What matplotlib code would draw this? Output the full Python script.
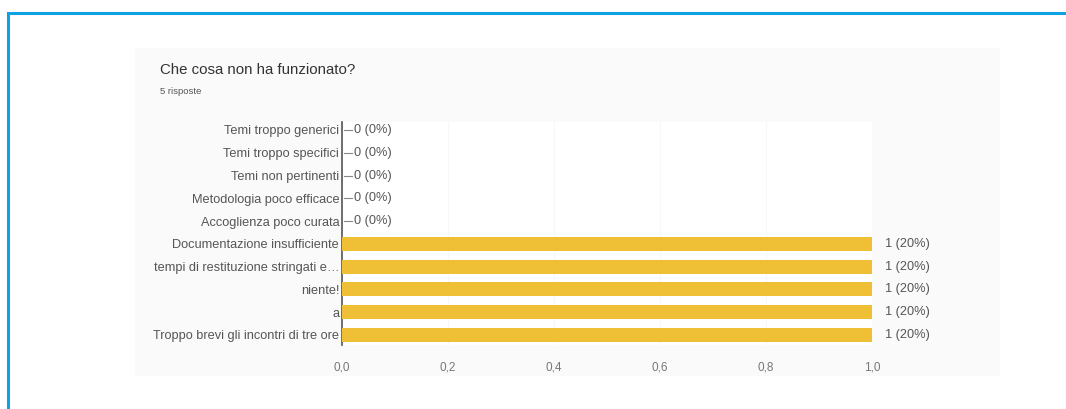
import matplotlib
matplotlib.use("Agg")
import matplotlib.pyplot as plt
from matplotlib.patches import Rectangle

plt.rcParams['font.family'] = ['Liberation Sans', 'DejaVu Sans']

# Survey answers and counts
categories = [
    "Temi troppo generici",
    "Temi troppo specifici",
    "Temi non pertinenti",
    "Metodologia poco efficace",
    "Accoglienza poco curata",
    "Documentazione insufficiente",
    "tempi di restituzione stringati e…",
    "niente!",
    "a",
    "Troppo brevi gli incontri di tre ore",
]
counts = [0, 0, 0, 0, 0, 1, 1, 1, 1, 1]
total_responses = 5
x_ticks = [0.0, 0.2, 0.4, 0.6, 0.8, 1.0]
x_tick_labels = ["0,0", "0,2", "0,4", "0,6", "0,8", "1,0"]

title = "Che cosa non ha funzionato?"
subtitle = f"{total_responses} risposte"

W, H = 1066, 409
fig = plt.figure(figsize=(W / 100, H / 100), dpi=100)
fig.patch.set_facecolor("white")

def fx(px):
    return px / W

def fy(py):
    return 1 - py / H

# Outer blue frame
frame = Rectangle((fx(8), fy(H + 20)), fx(W + 40), fy(13) - fy(H + 20),
                  transform=fig.transFigure, fill=False,
                  edgecolor="#0ea2e2", linewidth=2.2, zorder=0)
fig.add_artist(frame)

# Light card behind the chart
card = Rectangle((fx(135), fy(376)), fx(1000) - fx(135), fy(48) - fy(376),
                 transform=fig.transFigure, facecolor="#fafafa",
                 edgecolor="none", zorder=0)
fig.add_artist(card)

fig.text(fx(160), fy(70), title, fontsize=10.8, color="#333333",
         va="center", ha="left")
fig.text(fx(160), fy(91), subtitle, fontsize=6.8, color="#555555",
         va="center", ha="left")

ax = fig.add_axes([fx(342), fy(345), fx(872) - fx(342), fy(122) - fy(345)])
ax.set_facecolor("white")

y = list(range(len(categories)))
ax.barh(y, counts, height=0.62, color="#efbf35", zorder=3)

label_size = 9.2
text_color = "#555555"
ax.set_xlim(0, 1.0)
ax.set_ylim(9.44, -0.35)
ax.set_yticks(y)
ax.set_yticklabels(categories, fontsize=label_size, color=text_color)
ax.set_xticks(x_ticks)
ax.set_xticklabels(x_tick_labels, fontsize=8.5, color="#777777")
ax.tick_params(axis="both", length=0)
ax.tick_params(axis="y", pad=2)
ax.tick_params(axis="x", pad=12)

for s in ["top", "right", "bottom"]:
    ax.spines[s].set_visible(False)
ax.spines["left"].set_color("#555555")
ax.spines["left"].set_linewidth(1.2)
ax.grid(axis="x", color="#f7f7f7", linewidth=0.8, zorder=0)

for yi, c in zip(y, counts):
    pct = round(100 * c / total_responses)
    label = f"{c} ({pct}%)"
    if c == 0:
        ax.plot([0.004, 0.018], [yi, yi], color="#888888", linewidth=0.8,
                zorder=4, clip_on=False)
        ax.text(0.022, yi, label, fontsize=label_size, color=text_color,
                va="center", ha="left")
    else:
        ax.text(c + 0.025, yi, label, fontsize=label_size, color=text_color,
                va="center", ha="left", clip_on=False)

fig.savefig("out.png", dpi=100)
